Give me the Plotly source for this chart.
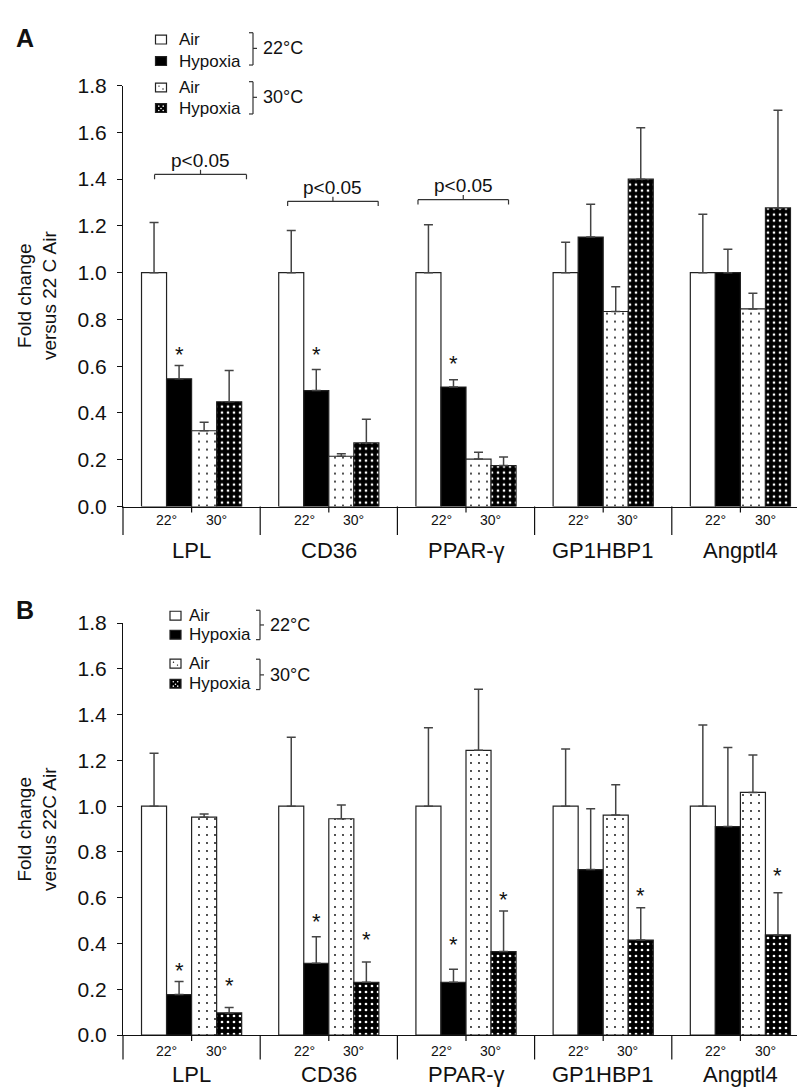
import plotly.graph_objects as go

W, H = 805, 1090

categories = ["LPL", "CD36", "PPAR-γ", "GP1HBP1", "Angptl4"]
series_names = ["Air 22°C", "Hypoxia 22°C", "Air 30°C", "Hypoxia 30°C"]
y_tick_vals = [0.0, 0.2, 0.4, 0.6, 0.8, 1.0, 1.2, 1.4, 1.6, 1.8]
y_tick_text = ["0.0", "0.2", "0.4", "0.6", "0.8", "1.0", "1.2", "1.4", "1.6", "1.8"]
sub_labels = ["22°", "30°"]

# ---- Panel A values ----
a_air22 = [1.0, 1.0, 1.0, 1.0, 1.0]
a_air22_err = [0.215, 0.18, 0.205, 0.13, 0.25]
a_hyp22 = [0.546, 0.496, 0.511, 1.152, 1.0]
a_hyp22_err = [0.057, 0.09, 0.031, 0.141, 0.10]
a_air30 = [0.324, 0.215, 0.203, 0.834, 0.845]
a_air30_err = [0.036, 0.011, 0.029, 0.106, 0.067]
a_hyp30 = [0.448, 0.272, 0.175, 1.40, 1.277]
a_hyp30_err = [0.134, 0.101, 0.037, 0.22, 0.418]

# significance marks panel A: (category index, series index, y)
a_star_cat = [0, 1, 2]
a_star_ser = [1, 1, 1]
a_star_y = [0.673, 0.67, 0.635]
# brackets panel A
a_br_cat = [0, 1, 2]
a_br_left = [-0.27, -0.30, -0.35]
a_br_right = [0.40, 0.36, 0.31]
a_br_y = [1.42, 1.305, 1.312]
a_br_text = ["p<0.05", "p<0.05", "p<0.05"]

# ---- Panel B values ----
b_air22 = [1.0, 1.0, 1.0, 1.0, 1.0]
b_air22_err = [0.231, 0.301, 0.342, 0.25, 0.354]
b_hyp22 = [0.177, 0.314, 0.231, 0.723, 0.911]
b_hyp22_err = [0.057, 0.116, 0.057, 0.266, 0.345]
b_air30 = [0.952, 0.945, 1.244, 0.961, 1.06]
b_air30_err = [0.014, 0.06, 0.267, 0.133, 0.164]
b_hyp30 = [0.097, 0.231, 0.365, 0.415, 0.4375]
b_hyp30_err = [0.024, 0.088, 0.177, 0.141, 0.184]

b_star_cat = [0, 0, 1, 1, 2, 2, 3, 4]
b_star_ser = [1, 3, 1, 3, 1, 3, 3, 3]
b_star_y = [0.305, 0.238, 0.519, 0.439, 0.416, 0.616, 0.633, 0.718]

FONT = "Liberation Sans, Arial, Helvetica, sans-serif"
INK = "#111111"


def px(x):
    return x / W


def py(y):
    return 1 - y / H


styles = [
    dict(color="white", pattern=None),
    dict(color="black", pattern=None),
    dict(color="white", pattern=dict(shape=".", fgcolor="black", bgcolor="white",
                                     size=8, solidity=0.04, fillmode="replace")),
    dict(color="black", pattern=dict(shape=".", fgcolor="white", bgcolor="black",
                                     size=6, solidity=0.16, fillmode="replace")),
]

fig = go.Figure()

panels = [
    dict(xa="x", ya="y", vals=[a_air22, a_hyp22, a_air30, a_hyp30],
         errs=[a_air22_err, a_hyp22_err, a_air30_err, a_hyp30_err]),
    dict(xa="x2", ya="y2", vals=[b_air22, b_hyp22, b_air30, b_hyp30],
         errs=[b_air22_err, b_hyp22_err, b_air30_err, b_hyp30_err]),
]

for p in panels:
    for s in range(4):
        marker = dict(color=styles[s]["color"], line=dict(color="#222222", width=1.2))
        if styles[s]["pattern"] is not None:
            marker["pattern"] = styles[s]["pattern"]
        fig.add_trace(go.Bar(
            x=categories, y=p["vals"][s], name=series_names[s],
            xaxis=p["xa"], yaxis=p["ya"], offsetgroup=str(s),
            marker=marker, showlegend=False,
            error_y=dict(type="data", symmetric=False, array=p["errs"][s],
                         arrayminus=[0] * len(categories), color="#444444",
                         thickness=1.5, width=4.5),
        ))

# geometry (pixels)
X0, X1 = 115, 801
A_TOP, A_BOT = 67, 497
B_TOP, B_BOT = 616, 1037

axis_common = dict(
    range=[0, 1.8], tickvals=y_tick_vals, ticktext=y_tick_text,
    showline=True, linecolor=INK, linewidth=1.2, ticks="outside", ticklen=5,
    tickcolor=INK, tickwidth=1.2, showgrid=False, zeroline=False,
    tickfont=dict(family=FONT, size=21, color=INK), ticklabelstandoff=6,
)
xaxis_common = dict(
    type="category", categoryorder="array", categoryarray=categories,
    showline=True, linecolor=INK, linewidth=1.2, showticklabels=False,
    ticks="", showgrid=False, zeroline=False, range=[-0.5, 4.5],
)

fig.update_layout(
    width=W, height=H, margin=dict(l=0, r=0, t=0, b=0),
    paper_bgcolor="white", plot_bgcolor="white",
    barmode="group", bargap=0.27, bargroupgap=0,
    font=dict(family=FONT, color=INK),
    xaxis=dict(domain=[px(X0), px(X1)], anchor="y", **xaxis_common),
    yaxis=dict(domain=[py(A_BOT), py(A_TOP)], anchor="x", **axis_common),
    xaxis2=dict(domain=[px(X0), px(X1)], anchor="y2", **xaxis_common),
    yaxis2=dict(domain=[py(B_BOT), py(B_TOP)], anchor="x2", **axis_common),
)

shapes = []
annotations = []

bar_w = 0.729 / 4
ser_offset = [(-1.5 + s) * bar_w for s in range(4)]

panel_geo = [
    dict(xa="x", ya="y", bot=A_BOT, div_len=29, sub_dy=14, cat_dy=45, letter="A",
         letter_y=18, ytitle="Fold change<br>versus 22 C Air", mid=(A_TOP + A_BOT) / 2),
    dict(xa="x2", ya="y2", bot=B_BOT, div_len=25, sub_dy=16, cat_dy=40, letter="B",
         letter_y=603, ytitle="Fold change<br>versus 22C Air", mid=(B_TOP + B_BOT) / 2),
]

for g in panel_geo:
    xd = g["xa"] + " domain"
    n = len(categories)
    for i in range(n + 1):
        shapes.append(dict(type="line", xref=xd, yref="paper", x0=i / n, x1=i / n,
                           y0=py(g["bot"]), y1=py(g["bot"] + g["div_len"]),
                           line=dict(color=INK, width=1.2)))
    for i in range(n):
        shapes.append(dict(type="line", xref=xd, yref="paper", x0=(i + 0.5) / n, x1=(i + 0.5) / n,
                           y0=py(g["bot"]), y1=py(g["bot"] + 6),
                           line=dict(color=INK, width=1.2)))
        for k, lab in enumerate(sub_labels):
            annotations.append(dict(text=lab, xref=g["xa"], yref="paper",
                                    x=i + (-0.18 if k == 0 else 0.18), y=py(g["bot"] + g["sub_dy"]),
                                    showarrow=False, xanchor="center", yanchor="middle",
                                    font=dict(family=FONT, size=14, color=INK)))
        annotations.append(dict(text=categories[i], xref=g["xa"], yref="paper",
                                x=i, y=py(g["bot"] + g["cat_dy"]), showarrow=False,
                                xanchor="center", yanchor="middle",
                                font=dict(family=FONT, size=22, color=INK)))
    annotations.append(dict(text="<b>" + g["letter"] + "</b>", xref="paper", yref="paper",
                            x=px(17), y=py(g["letter_y"]), showarrow=False,
                            xanchor="center", yanchor="middle",
                            font=dict(family=FONT, size=25, color=INK)))
    annotations.append(dict(text=g["ytitle"], xref="paper", yref="paper",
                            x=px(29), y=py(g["mid"]), showarrow=False, textangle=-90,
                            xanchor="center", yanchor="middle",
                            font=dict(family=FONT, size=19, color=INK)))

# asterisks
for cats, sers, ys, xa, ya in [(a_star_cat, a_star_ser, a_star_y, "x", "y"),
                               (b_star_cat, b_star_ser, b_star_y, "x2", "y2")]:
    for c, s, yv in zip(cats, sers, ys):
        annotations.append(dict(text="*", xref=xa, yref=ya, x=c + ser_offset[s], y=yv,
                                yshift=-5, showarrow=False, xanchor="center", yanchor="middle",
                                font=dict(family=FONT, size=22, color=INK)))

# brackets
for c, l, r, yv, t in zip(a_br_cat, a_br_left, a_br_right, a_br_y, a_br_text):
    xl, xr, xm = c + l, c + r, c + (l + r) / 2
    ln = dict(color="#333333", width=1.2)
    shapes.append(dict(type="line", xref="x", yref="y", x0=xl, x1=xr, y0=yv, y1=yv, line=ln))
    shapes.append(dict(type="line", xref="x", yref="y", x0=xl, x1=xl, y0=yv, y1=yv - 0.02, line=ln))
    shapes.append(dict(type="line", xref="x", yref="y", x0=xr, x1=xr, y0=yv, y1=yv - 0.02, line=ln))
    shapes.append(dict(type="line", xref="x", yref="y", x0=xm, x1=xm, y0=yv, y1=yv + 0.02, line=ln))
    annotations.append(dict(text=t, xref="x", yref="y", x=xm, y=yv + 0.06, showarrow=False,
                            xanchor="center", yanchor="middle",
                            font=dict(family=FONT, size=19, color=INK)))

# custom legends (pixel layout)
legend_layouts = [
    dict(sq_x=153, rows=[20, 42, 69, 90], text_x=169, brace_x=245,
         braces=[(13, 46, 29), (63, 96, 79)]),
    dict(sq_x=167.5, rows=[608.5, 628, 657.5, 678], text_x=179, brace_x=252,
         braces=[(603, 633, 618), (653, 684, 669)]),
]
legend_labels = ["Air", "Hypoxia", "Air", "Hypoxia"]
brace_labels = ["22°C", "30°C"]

for L in legend_layouts:
    for s, ry in enumerate(L["rows"]):
        cx = L["sq_x"]
        fill = "white" if s in (0, 2) else "black"
        shapes.append(dict(type="rect", xref="paper", yref="paper",
                           x0=px(cx - 5.5), x1=px(cx + 5.5), y0=py(ry + 4.5), y1=py(ry - 4.5),
                           fillcolor=fill, line=dict(color="#222222", width=1.2)))
        if s == 2:
            for dx, dy in [(-2, -1.5), (2, 1.5)]:
                shapes.append(dict(type="circle", xref="paper", yref="paper",
                                   x0=px(cx + dx - 0.7), x1=px(cx + dx + 0.7),
                                   y0=py(ry + dy + 0.7), y1=py(ry + dy - 0.7),
                                   fillcolor="black", line=dict(width=0)))
        if s == 3:
            for dx, dy in [(-2.2, -2), (2.2, -2), (0, 0.5), (-2.2, 2.5), (2.2, 2.5)]:
                shapes.append(dict(type="circle", xref="paper", yref="paper",
                                   x0=px(cx + dx - 0.8), x1=px(cx + dx + 0.8),
                                   y0=py(ry + dy + 0.8), y1=py(ry + dy - 0.8),
                                   fillcolor="white", line=dict(width=0)))
        annotations.append(dict(text=legend_labels[s], xref="paper", yref="paper",
                                x=px(L["text_x"]), y=py(ry), showarrow=False,
                                xanchor="left", yanchor="middle",
                                font=dict(family=FONT, size=17, color=INK)))
    for b, (top, bot, mid) in enumerate(L["braces"]):
        bx = L["brace_x"]
        ln = dict(color="#333333", width=1.2)
        shapes.append(dict(type="line", xref="paper", yref="paper", x0=px(bx), x1=px(bx),
                           y0=py(top), y1=py(bot), line=ln))
        shapes.append(dict(type="line", xref="paper", yref="paper", x0=px(bx - 4), x1=px(bx),
                           y0=py(top), y1=py(top), line=ln))
        shapes.append(dict(type="line", xref="paper", yref="paper", x0=px(bx - 4), x1=px(bx),
                           y0=py(bot), y1=py(bot), line=ln))
        shapes.append(dict(type="line", xref="paper", yref="paper", x0=px(bx), x1=px(bx + 4),
                           y0=py(mid), y1=py(mid), line=ln))
        annotations.append(dict(text=brace_labels[b], xref="paper", yref="paper",
                                x=px(bx + 8), y=py(mid), showarrow=False,
                                xanchor="left", yanchor="middle",
                                font=dict(family=FONT, size=18, color=INK)))

fig.update_layout(shapes=shapes, annotations=annotations)
fig.write_html("out.html")
